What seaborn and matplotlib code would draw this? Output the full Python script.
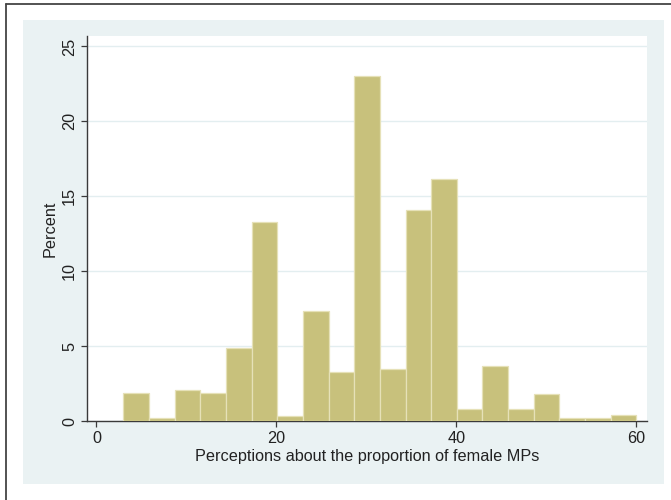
import numpy as np
import pandas as pd
import matplotlib
matplotlib.use("Agg")
import matplotlib.pyplot as plt
import seaborn as sns
from matplotlib.patches import Rectangle

# histogram: 20 bins from 3 to 60
bin_lo, bin_hi, n_bins = 3, 60, 20
percent = [1.84, 0.18, 2.05, 1.84, 4.89, 13.3, 0.35, 7.35, 3.25, 23.0,
           3.47, 14.1, 16.15, 0.8, 3.67, 0.8, 1.82, 0.18, 0.18, 0.38]
x_ticks = [0, 20, 40, 60]
y_ticks = [0, 5, 10, 15, 20, 25]
x_label = "Perceptions about the proportion of female MPs"
y_label = "Percent"

edges = np.linspace(bin_lo, bin_hi, n_bins + 1)
centers = (edges[:-1] + edges[1:]) / 2
df = pd.DataFrame({"value": centers, "pct": percent})

sns.set_style("white")
plt.rcParams['font.family'] = ['Liberation Sans', 'DejaVu Sans']

bg = "#EAF2F3"
dark = "#3a3a3a"
fs = 11.7

fig = plt.figure(figsize=(6.71, 5), dpi=100)
fig.patch.set_facecolor("white")

# light outer panel (Stata style), kept behind the axes
fig.patches.append(Rectangle((23 / 671, 16 / 500), 641 / 671, 464 / 500,
                             transform=fig.transFigure, facecolor=bg,
                             edgecolor="none", zorder=-10))
# frame lines at top and left
fig.add_artist(plt.Line2D([6 / 671, 6 / 671], [0, 496.5 / 500],
                          transform=fig.transFigure, color="#444444", lw=1.3))
fig.add_artist(plt.Line2D([6 / 671, 1], [496.5 / 500, 496.5 / 500],
                          transform=fig.transFigure, color="#444444", lw=1.3))

ax = fig.add_axes([86.7 / 671, 79 / 500, (647 - 86.7) / 671, (464 - 79) / 500])
ax.set_facecolor("white")

sns.histplot(data=df, x="value", weights="pct", bins=n_bins,
             binrange=(bin_lo, bin_hi), stat="count", ax=ax,
             color="#C8C17C", edgecolor="#E6E1B8", linewidth=0.9, alpha=1.0,
             zorder=3)

ax.set_xlim(-1.08, 61.18)
ax.set_ylim(0, 25.7)
ax.set_xticks(x_ticks)
ax.set_yticks(y_ticks)
ax.set_yticklabels([str(v) for v in y_ticks], rotation=90, va="center")

ax.grid(axis="y", color="#E3EEF0", linewidth=1.0, zorder=0)
ax.grid(axis="x", visible=False)
ax.set_axisbelow(True)

for side in ["top", "right"]:
    ax.spines[side].set_visible(False)
for side in ["left", "bottom"]:
    ax.spines[side].set_color(dark)
    ax.spines[side].set_linewidth(1.0)

ax.tick_params(axis="both", direction="out", length=4, width=0.9,
               color=dark, labelcolor="#222222", labelsize=fs,
               left=True, bottom=True, pad=3)

ax.set_xlabel(x_label, fontsize=fs, color="#222222", labelpad=2)
ax.set_ylabel(y_label, fontsize=fs, color="#222222", labelpad=3)

fig.savefig("out.png", dpi=100, facecolor=fig.get_facecolor())
